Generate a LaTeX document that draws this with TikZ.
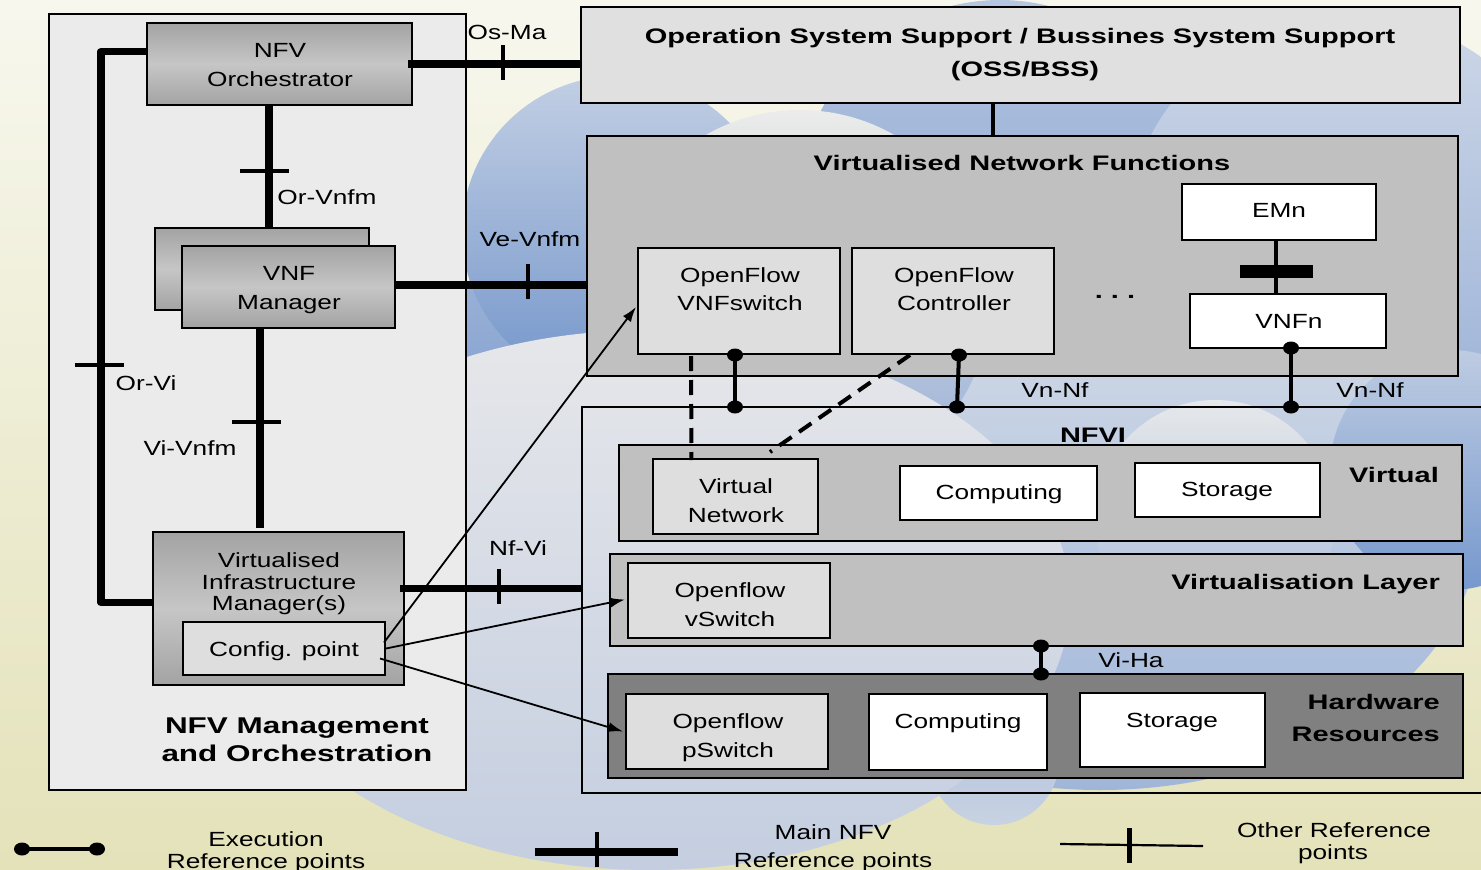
\documentclass[tikz,border=0pt]{standalone}
\usepackage{fontspec}
\setmainfont{Liberation Sans}[FakeStretch=1.28]
\newfontfamily\boldf{Liberation Sans}[FakeStretch=1.38]
\usetikzlibrary{arrows.meta,calc}

\definecolor{creamT}{HTML}{F7F7EE}
\definecolor{creamB}{HTML}{E4E2B9}
\definecolor{manobg}{HTML}{EBEBEB}
\definecolor{lightbox}{HTML}{DEDEDE}
\definecolor{ossfill}{HTML}{E0E0E0}
\definecolor{midgrey}{HTML}{C0C0C0}
\definecolor{darkgrey}{HTML}{808080}
\definecolor{gradEdge}{HTML}{A3A3A3}
\definecolor{gradMid}{HTML}{C6C6C6}

\newcommand\execdot[1]{\fill (#1) ellipse [x radius=8pt, y radius=6.5pt];}

\begin{document}
\begin{tikzpicture}[x=1pt,y=-1pt,
  box/.style={draw=black, line width=2pt, rectangle, inner sep=0pt, outer sep=0pt},
  mgrad/.style={box, top color=gradEdge, bottom color=gradEdge, middle color=gradMid},
  lbl/.style={font=\fontsize{20.5}{24}\selectfont, inner sep=0pt, anchor=base},
  blbl/.style={font=\boldf\bfseries\fontsize{21}{24}\selectfont, inner sep=0pt, anchor=base},
  mainref/.style={line width=7.5pt},
  tickmark/.style={line width=4pt},
  execref/.style={line width=4pt},
  cfglink/.style={line width=1.8pt, -{Latex[length=15pt,width=10pt]}},
  dashlink/.style={line width=4pt, dash pattern=on 15pt off 9pt}]

\useasboundingbox (0,0) rectangle (1481,870);
\clip (0,0) rectangle (1481,870);

% backdrop
\shade[top color=creamT, bottom color=creamB] (0,0) rectangle (1481,870);

% cloud lobes
\shade[top color={rgb,255:red,181;green,198;blue,224}, bottom color={rgb,255:red,128;green,158;blue,207}] (1000,200) circle[radius=200];
\shade[top color={rgb,255:red,205;green,215;blue,231}, bottom color={rgb,255:red,150;green,174;blue,214}] (1350,240) circle[radius=225];
\shade[top color={rgb,255:red,214;green,221;blue,232}, bottom color={rgb,255:red,160;green,182;blue,217}] (1100,520) ellipse [x radius=380, y radius=270];
\shade[top color={rgb,255:red,190;green,204;blue,226}, bottom color={rgb,255:red,118;green,152;blue,205}] (1450,470) circle[radius=120];
\shade[top color={rgb,255:red,176;green,193;blue,221}, bottom color={rgb,255:red,110;green,146;blue,201}] (650,340) circle[radius=190];
\shade[top color={rgb,255:red,194;green,207;blue,228}, bottom color={rgb,255:red,115;green,149;blue,202}] (618,232) circle[radius=156];
\shade[top color={rgb,255:red,235;green,236;blue,234}, bottom color={rgb,255:red,150;green,173;blue,213}] (800,300) circle[radius=190];
\shade[top color={rgb,255:red,170;green,189;blue,220}, bottom color={rgb,255:red,200;green,210;blue,226}] (862,760) circle[radius=65];
\shade[top color={rgb,255:red,170;green,189;blue,220}, bottom color={rgb,255:red,200;green,210;blue,226}] (994,760) circle[radius=65];
\shade[top color={rgb,255:red,230;green,231;blue,234}, middle color={rgb,255:red,150;green,174;blue,214}, bottom color={rgb,255:red,196;green,206;blue,224}] (650,600) ellipse [x radius=420, y radius=270];
\shade[top color={rgb,255:red,230;green,232;blue,234}, bottom color={rgb,255:red,165;green,185;blue,219}] (1215,520) circle[radius=120];

% management and orchestration block
\node[box, fill=manobg, minimum width=417pt, minimum height=776pt] (mano) at (257.5,402) {};
\node[mgrad, minimum width=265pt, minimum height=82pt] (orch) at (279.5,64) {};
\node[mgrad, minimum width=214pt, minimum height=82pt] (vnfmB) at (262,269) {};
\node[mgrad, minimum width=213pt, minimum height=82pt] (vnfm) at (288.5,287) {};
\node[mgrad, minimum width=251pt, minimum height=153pt] (vim) at (278.5,608.5) {};
\node[box, fill=lightbox, minimum width=202pt, minimum height=53pt] (cfg) at (284,648.5) {};

% OSS/BSS and VNF layer
\node[box, fill=ossfill, minimum width=879pt, minimum height=96pt] (oss) at (1020.5,55) {};
\node[box, fill=midgrey, minimum width=871pt, minimum height=240pt] (vnf) at (1022.5,256) {};
\node[box, fill=lightbox, minimum width=202pt, minimum height=106pt] (ofsw) at (739,301) {};
\node[box, fill=lightbox, minimum width=202pt, minimum height=106pt] (ofc) at (953,301) {};
\node[box, fill=white, minimum width=194pt, minimum height=56pt] (emn) at (1279,212) {};
\node[box, fill=white, minimum width=196pt, minimum height=54pt] (vnfn) at (1288,321) {};

% NFVI
\node[box, minimum width=918pt, minimum height=386pt] (nfvi) at (1041,600) {};
\node[box, fill=midgrey, minimum width=843pt, minimum height=96pt] (virt) at (1040.5,493) {};
\node[box, fill=lightbox, minimum width=165pt, minimum height=75pt] (vnet) at (735.5,496.5) {};
\node[box, fill=white, minimum width=197pt, minimum height=54pt] (vcomp) at (998.5,493) {};
\node[box, fill=white, minimum width=185pt, minimum height=54pt] (vstor) at (1227.5,490) {};
\node[box, fill=midgrey, minimum width=853pt, minimum height=92pt] (vlay) at (1036.5,600) {};
\node[box, fill=lightbox, minimum width=202pt, minimum height=75pt] (vsw) at (729,600.5) {};
\node[box, fill=darkgrey, minimum width=855pt, minimum height=104pt] (hw) at (1035.5,726) {};
\node[box, fill=lightbox, minimum width=202pt, minimum height=75pt] (psw) at (727,731.5) {};
\node[box, fill=white, minimum width=178pt, minimum height=76pt] (hcomp) at (958,732) {};
\node[box, fill=white, minimum width=185pt, minimum height=74pt] (hstor) at (1172.5,730) {};

% main reference points
\draw[mainref, line join=round] ($(orch.north west)!0.35!(orch.south west)$) -- ++(-46,0) coordinate (orviC)
  |- ($(vim.north west)!0.46!(vim.south west)$);
\coordinate (tOrVi) at (orviC |- 0,365);
\draw[tickmark] ($(tOrVi)+(-26,0)$) -- ($(tOrVi)+(23,0)$);

\coordinate (orvnfmA) at ($(orch.south)+(-10.5,0)$);
\draw[mainref] (orvnfmA) -- (orvnfmA |- vnfmB.north);
\coordinate (tOrVnfm) at (orvnfmA |- 0,171);
\draw[tickmark] ($(tOrVnfm)+(-29,0)$) -- ($(tOrVnfm)+(20,0)$);

\coordinate (vivnfmA) at ($(vnfm.south)+(-28.5,0)$);
\draw[mainref] (vivnfmA) -- ($(vivnfmA |- vim.north)+(0,-4)$);
\coordinate (tViVnfm) at (vivnfmA |- 0,422);
\draw[tickmark] ($(tViVnfm)+(-28,0)$) -- ($(tViVnfm)+(21,0)$);

\draw[mainref] ([xshift=-4pt]orch.east) -- (orch.east -| oss.west);
\coordinate (tOsMa) at (orch.east -| 503,0);
\draw[tickmark] ($(tOsMa)+(0,-19)$) -- ($(tOsMa)+(0,16)$);

\coordinate (vevnfmA) at ($(vnfm.east)+(0,-2)$);
\draw[mainref] (vevnfmA) -- (vevnfmA -| vnf.west);
\coordinate (tVeVnfm) at (vevnfmA -| 528,0);
\draw[tickmark] ($(tVeVnfm)+(0,-21)$) -- ($(tVeVnfm)+(0,14)$);

\coordinate (nfviA) at ($(vim.north east)!0.37!(vim.south east)$);
\draw[mainref] ([xshift=-4pt]nfviA) -- (nfviA -| nfvi.west);
\coordinate (tNfVi) at (nfviA -| 499,0);
\draw[tickmark] ($(tNfVi)+(0,-20)$) -- ($(tNfVi)+(0,15)$);

% OSS/BSS to VNF link
\coordinate (ossA) at ($(oss.south)+(-27.5,0)$);
\draw[line width=3.5pt] (ossA) -- (ossA |- vnf.north);

% EMn to VNFn
\coordinate (emA) at ($(emn.south)+(-3,0)$);
\draw[line width=4pt] (emA) -- (emA |- vnfn.north);
\coordinate (emBar) at ($(emA)!0.58!(emA |- vnfn.north)$);
\draw[line width=13pt] ($(emBar)+(-36,0)$) -- ($(emBar)+(37,0)$);

% execution reference points
\coordinate (e1a) at ($(ofsw.south)+(-4,1)$);
\coordinate (e1b) at (e1a |- nfvi.north);
\coordinate (e2a) at ($(ofc.south)+(6,1)$);
\coordinate (e2b) at ($(ofc.south |- nfvi.north)+(4,0)$);
\coordinate (e3a) at ($(vnfn.south)+(3,0)$);
\coordinate (e3b) at (e3a |- nfvi.north);
\coordinate (e4a) at ($(vlay.south)+(4.5,0)$);
\coordinate (e4b) at (e4a |- hw.north);
\draw[execref] (e1a) -- (e1b);
\draw[execref] (e2a) -- (e2b);
\draw[execref] (e3a) -- (e3b);
\draw[execref] (e4a) -- (e4b);
\execdot{e1a}\execdot{e1b}\execdot{e2a}\execdot{e2b}
\execdot{e3a}\execdot{e3b}\execdot{e4a}\execdot{e4b}

% virtual network control paths
\draw[dashlink] ($(ofsw.south)+(-48,2)$) -- ($(vnet.north)+(-44,1)$);
\draw[dashlink] ($(ofc.south)+(-43,1)$) -- ($(vnet.north)+(34.5,-7)$);

% configuration point links
\draw[cfglink] ($(cfg.east)+(-1,-6)$) -- ($(ofsw.west)+(-2,6)$);
\draw[cfglink] ($(cfg.east)+(1,0)$) -- ($(vsw.west)+(-3,-1)$);
\draw[cfglink] ($(cfg.east)+(-5,10)$) -- ($(psw.west)+(-3,0)$);

% labels: management block
\node[lbl] (tOrch1) at (280,57) {NFV};
\node[lbl] (tOrch2) at (280,86) {Orchestrator};
\node[lbl] (tVnfm1) at (289,280) {VNF};
\node[lbl] (tVnfm2) at (289,309) {Manager};
\node[lbl] (tVim1) at (279,567) {Virtualised};
\node[lbl] (tVim2) at (279,589) {Infrastructure};
\node[lbl] (tVim3) at (279,610) {Manager(s)};
\node[lbl] (tCfg) at (284,656) {Config. point};
\node[blbl, font=\boldf\bfseries\fontsize{22.8}{26}\selectfont] (tMano1) at (297,733) {NFV Management};
\node[blbl, font=\boldf\bfseries\fontsize{22.8}{26}\selectfont] (tMano2) at (297,761) {and Orchestration};

% labels: reference points
\node[lbl] (lOsMa) at (507,39) {Os-Ma};
\node[lbl] (lOrVnfm) at (327,204) {Or-Vnfm};
\node[lbl] (lVeVnfm) at (530,246) {Ve-Vnfm};
\node[lbl] (lOrVi) at (146,390) {Or-Vi};
\node[lbl] (lViVnfm) at (190,455) {Vi-Vnfm};
\node[lbl] (lNfVi) at (518,555) {Nf-Vi};
\node[lbl] (lVnNf1) at (1055,397) {Vn-Nf};
\node[lbl] (lVnNf2) at (1370,397) {Vn-Nf};
\node[lbl] (lViHa) at (1131,667) {Vi-Ha};

% labels: OSS/BSS and VNF
\node[blbl] (tOss1) at (1020,43) {Operation System Support / Bussines System Support};
\node[blbl] (tOss2) at (1025,76) {(OSS/BSS)};
\node[blbl] (tVnf) at (1022,170) {Virtualised Network Functions};
\node[lbl] (tOfsw1) at (740,282) {OpenFlow};
\node[lbl] (tOfsw2) at (740,310) {VNFswitch};
\node[lbl] (tOfc1) at (954,282) {OpenFlow};
\node[lbl] (tOfc2) at (954,310) {Controller};
\node[blbl] (tDots) at (1115,298) {.\hspace{8pt}.\hspace{8pt}.};
\node[lbl] (tEmn) at (1279,217) {EMn};
\node[lbl] (tVnfn) at (1289,328) {VNFn};

% labels: NFVI
\node[blbl] (tNfvi) at (1093,442) {NFVI};
\node[blbl, anchor=base east] (tVirt) at (1439,482) {Virtual};
\node[lbl] (tVnet1) at (736,493) {Virtual};
\node[lbl] (tVnet2) at (736,522) {Network};
\node[lbl] (tVcomp) at (999,499) {Computing};
\node[lbl] (tVstor) at (1227,496) {Storage};
\node[blbl, anchor=base east] (tVlay) at (1440,589) {Virtualisation Layer};
\node[lbl] (tVsw1) at (730,597) {Openflow};
\node[lbl] (tVsw2) at (730,626) {vSwitch};
\node[blbl, anchor=base east] (tHw1) at (1440,709) {Hardware};
\node[blbl, anchor=base east] (tHw2) at (1440,741) {Resources};
\node[lbl] (tPsw1) at (728,728) {Openflow};
\node[lbl] (tPsw2) at (728,757) {pSwitch};
\node[lbl] (tHcomp) at (958,728) {Computing};
\node[lbl] (tHstor) at (1172,727) {Storage};

% legend
\coordinate (lgEa) at (22,849);
\coordinate (lgEb) at (97,849);
\draw[line width=3.5pt] (lgEa) -- (lgEb);
\execdot{lgEa}\execdot{lgEb}
\node[lbl] (lgE1) at (266,846) {Execution};
\node[lbl] (lgE2) at (266,868) {Reference points};

\coordinate (lgMa) at (535,852);
\coordinate (lgMb) at (678,852);
\draw[line width=8pt] (lgMa) -- (lgMb);
\coordinate (lgMt) at (597,852);
\draw[tickmark] ($(lgMt)+(0,-20)$) -- ($(lgMt)+(0,15)$);
\node[lbl] (lgM1) at (833,839) {Main NFV};
\node[lbl] (lgM2) at (833,867) {Reference points};

\coordinate (lgOa) at (1060,844);
\coordinate (lgOb) at (1203,846);
\draw[line width=2.2pt] (lgOa) -- (lgOb);
\coordinate (lgOt) at (1129,845);
\draw[line width=5pt] ($(lgOt)+(0,-17)$) -- ($(lgOt)+(0,18)$);
\node[lbl] (lgO1) at (1334,837) {Other Reference};
\node[lbl] (lgO2) at (1333,859) {points};

\end{tikzpicture}
\end{document}
